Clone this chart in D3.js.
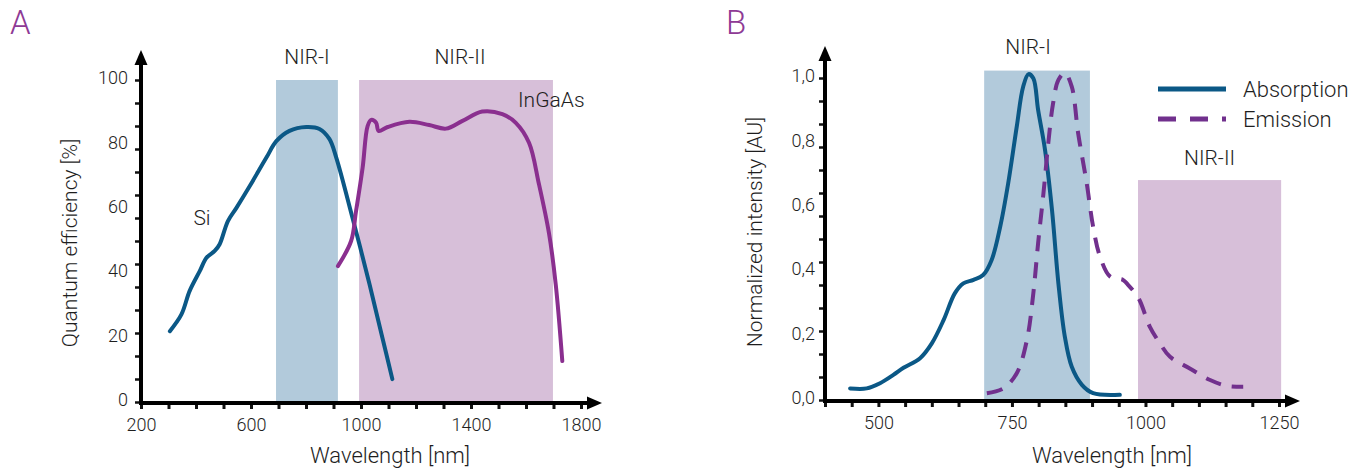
<!DOCTYPE html>
<html>
<head>
<meta charset="utf-8">
<script src="https://cdn.jsdelivr.net/npm/d3@7"></script>
<style>
  html, body { margin: 0; padding: 0; background: #fff; }
  svg { display: block; }
  text { font-family: Roboto, "Open Sans", sans-serif; fill: #1e1e1e; font-weight: 300; }
</style>
</head>
<body>
<svg id="chart" width="1370" height="471"></svg>
<script>
// ---------- Panel A data ----------
const siWavelength = [305, 347, 377, 414, 438, 468, 486, 516, 547, 595, 656, 692, 740, 801, 849, 885, 910, 969, 1031, 1078, 1114];
const siQE         = [22, 27.2, 34.5, 40.7, 44.8, 46.9, 49, 56.2, 60.3, 67, 75.9, 81, 84.2, 85.4, 84.8, 81.7, 75.9, 57.2, 36.6, 19.9, 7.1];
const ingaasWavelength = [916, 964, 982, 1006, 1024, 1037, 1055, 1064, 1097, 1176, 1248, 1309, 1369, 1441, 1514, 1563, 1611, 1647, 1684, 1708, 1732];
const ingaasQE         = [42.2, 50, 59.3, 72.8, 85.7, 87.6, 86.7, 84.2, 85.4, 87, 86, 84.9, 87.3, 90.2, 89.4, 86.7, 80.5, 67.7, 52.2, 36.6, 12.7];
const bandsA = ["NIR-I", "NIR-II"];
const bandsAStart = [691, 993];
const bandsAEnd = [916, 1698];
const bandsATop = [100, 100];
const xTicksA = [200, 600, 1000, 1400, 1800];
const xMinorA = [200, 300, 400, 500, 600, 700, 800, 900, 1000, 1100, 1200, 1300, 1400, 1500, 1600, 1700, 1800];
const yTicksA = [0, 20, 40, 60, 80, 100];

// ---------- Panel B data ----------
const absWavelength = [447, 478, 503, 528, 547, 578, 600, 622, 643, 659, 678, 696, 712, 728, 743, 759, 771, 781, 790, 799, 812, 825, 837, 849, 862, 881, 902, 952];
const absIntensity  = [0.036, 0.036, 0.052, 0.078, 0.1, 0.13, 0.176, 0.248, 0.331, 0.362, 0.373, 0.388, 0.435, 0.538, 0.673, 0.849, 0.973, 1.012, 0.999, 0.901, 0.776, 0.59, 0.362, 0.197, 0.103, 0.047, 0.021, 0.016];
const emWavelength = [703, 734, 759, 778, 790, 799, 809, 818, 827, 837, 849, 862, 874, 890, 902, 915, 934, 958, 965, 987, 1008, 1027, 1046, 1083, 1121, 1152, 1183];
const emIntensity  = [0.021, 0.036, 0.083, 0.186, 0.331, 0.487, 0.642, 0.797, 0.921, 0.994, 1.016, 0.973, 0.828, 0.673, 0.538, 0.445, 0.383, 0.373, 0.362, 0.316, 0.228, 0.176, 0.134, 0.098, 0.062, 0.044, 0.041];
const bandsB = ["NIR-I", "NIR-II"];
const bandsBStart = [698, 986];
const bandsBEnd = [896, 1254];
const bandsBTop = [1.023, 0.683];
const xTicksB = [500, 750, 1000, 1250];
const xMinorB = [400, 450, 500, 550, 600, 650, 700, 750, 800, 850, 900, 950, 1000, 1050, 1100, 1150, 1200, 1250];
const yTicksB = [0, 0.2, 0.4, 0.6, 0.8, 1.0];
const yTickLabelsB = ["0,0", "0,2", "0,4", "0,6", "0,8", "1,0"];
const seriesB = ["Absorption", "Emission"];

// ---------- Styles ----------
const BLUE = "#0b5886";
const PURPLE_A = "#8a2f8f";
const PURPLE_B = "#71308d";
const BAND_BLUE = "#b2cadb";
const BAND_PURPLE = "#d7bfd9";
const LABEL_PURPLE = "#8e3a95";

const svg = d3.select("#chart");

function arrowUp(g, x, yTip) {
  const p = d3.path(); p.moveTo(x, yTip); p.lineTo(x - 6.5, yTip + 15); p.lineTo(x + 6.5, yTip + 15); p.closePath();
  g.append("path").attr("d", p.toString()).attr("fill", "#000");
}
function arrowRight(g, xTip, y) {
  const p = d3.path(); p.moveTo(xTip, y); p.lineTo(xTip - 15, y - 6.5); p.lineTo(xTip - 15, y + 6.5); p.closePath();
  g.append("path").attr("d", p.toString()).attr("fill", "#000");
}

function drawPanel(cfg) {
  const g = svg.append("g");
  const x = cfg.x, y = cfg.y;
  cfg.bandNames.forEach((name, i) => {
    g.append("rect")
      .attr("x", x(cfg.bandStart[i]))
      .attr("y", y(cfg.bandTop[i]))
      .attr("width", x(cfg.bandEnd[i]) - x(cfg.bandStart[i]))
      .attr("height", y(0) - y(cfg.bandTop[i]) + 1)
      .attr("fill", cfg.bandColors[i]);
  });
  const xMinorAxis = d3.axisBottom(x).tickValues(cfg.xMinor).tickSize(6).tickFormat("");
  const gxm = g.append("g").attr("transform", `translate(0,${cfg.axisY})`).call(xMinorAxis);
  gxm.select(".domain").remove();
  gxm.selectAll(".tick line").attr("stroke", "#111").attr("stroke-width", 3);

  const yMinorAxis = d3.axisLeft(y).tickValues(cfg.yMinor).tickSize(5).tickFormat("");
  const gym = g.append("g").attr("transform", `translate(${cfg.axisX - 1},0)`).call(yMinorAxis);
  gym.select(".domain").remove();
  gym.selectAll(".tick line").attr("stroke", "#111").attr("stroke-width", 2.5);

  const xAxis = d3.axisBottom(x).tickValues(cfg.xTicks).tickSize(0).tickPadding(0).tickFormat(cfg.xFormat);
  const gx = g.append("g").attr("transform", `translate(0,${cfg.axisY})`).call(xAxis);
  gx.select(".domain").remove();
  gx.selectAll(".tick text").attr("font-size", 18).attr("fill", "#1e1e1e")
    .attr("font-family", "Roboto, sans-serif").attr("font-weight", 300).attr("y", 0).attr("dy", cfg.xLabelDy);

  const yAxis = d3.axisLeft(y).tickValues(cfg.yTicks).tickSize(0).tickPadding(0).tickFormat(cfg.yFormat);
  const gy = g.append("g").attr("transform", `translate(${cfg.yLabelX},0)`).call(yAxis);
  gy.select(".domain").remove();
  gy.selectAll(".tick text").attr("font-size", 18).attr("fill", "#1e1e1e")
    .attr("font-family", "Roboto, sans-serif").attr("font-weight", 300).attr("x", 0).attr("dy", "0.2em");

  const line = d3.line().x(d => x(d[0])).y(d => y(d[1])).curve(d3.curveCatmullRom.alpha(0.5));
  cfg.series.forEach(s => {
    g.append("path").datum(s.data).attr("d", line)
      .attr("fill", "none").attr("stroke", s.color).attr("stroke-width", 4)
      .attr("stroke-linecap", s.dash ? "butt" : "round").attr("stroke-linejoin", "round")
      .attr("stroke-dasharray", s.dash || null);
  });

  g.append("line").attr("x1", cfg.axisX).attr("x2", cfg.axisX)
    .attr("y1", cfg.axisY + 2).attr("y2", cfg.yTipY + 12)
    .attr("stroke", "#000").attr("stroke-width", 4);
  arrowUp(g, cfg.axisX, cfg.yTipY);
  g.append("line").attr("x1", cfg.axisX - 2).attr("x2", cfg.xTipX - 12)
    .attr("y1", cfg.axisY).attr("y2", cfg.axisY)
    .attr("stroke", "#000").attr("stroke-width", 4);
  arrowRight(g, cfg.xTipX, cfg.axisY);
  return g;
}

// ---------- Panel A ----------
const xA = d3.scaleLinear().domain([200, 1800]).range([141, 581]);
const yA = d3.scaleLinear().domain([0, 100]).range([402, 80]);
const gA = drawPanel({
  x: xA, y: yA, axisX: 141, axisY: 403, yTipY: 50, xTipX: 602,
  bandNames: bandsA, bandStart: bandsAStart, bandEnd: bandsAEnd, bandTop: bandsATop,
  bandColors: [BAND_BLUE, BAND_PURPLE],
  xMinor: xMinorA, yMinor: d3.range(15).map(i => i * 100 / 14),
  xTicks: xTicksA, yTicks: yTicksA, xFormat: d3.format("d"), yFormat: d3.format("d"),
  xLabelDy: 28, yLabelX: 128,
  series: [
    { data: siWavelength.map((w, i) => [w, siQE[i]]), color: BLUE },
    { data: ingaasWavelength.map((w, i) => [w, ingaasQE[i]]), color: PURPLE_A }
  ]
});
gA.append("text").attr("x", 10).attr("y", 34).attr("font-size", 33).attr("font-weight", 300)
  .style("fill", LABEL_PURPLE).text("A");
gA.append("text").attr("x", (xA(bandsAStart[0]) + xA(bandsAEnd[0])) / 2).attr("y", 64)
  .attr("text-anchor", "middle").attr("font-size", 21).text(bandsA[0]);
gA.append("text").attr("x", 460).attr("y", 64)
  .attr("text-anchor", "middle").attr("font-size", 21).text(bandsA[1]);
gA.append("text").attr("x", 518).attr("y", 107).attr("font-size", 21).text("InGaAs");
gA.append("text").attr("x", 202).attr("y", 225).attr("text-anchor", "middle").attr("font-size", 21).text("Si");
gA.append("text").attr("transform", "translate(77,243) rotate(-90)").attr("text-anchor", "middle")
  .attr("font-size", 21).text("Quantum efficiency [%]");
gA.append("text").attr("x", 390).attr("y", 463).attr("text-anchor", "middle")
  .attr("font-size", 22).text("Wavelength [nm]");

// ---------- Panel B ----------
const xB = d3.scaleLinear().domain([400, 1250]).range([825, 1279]);
const yB = d3.scaleLinear().domain([0, 1]).range([400, 78]);
const gB = drawPanel({
  x: xB, y: yB, axisX: 825, axisY: 401, yTipY: 46, xTipX: 1300,
  bandNames: bandsB, bandStart: bandsBStart, bandEnd: bandsBEnd, bandTop: bandsBTop,
  bandColors: [BAND_BLUE, BAND_PURPLE],
  xMinor: xMinorB, yMinor: d3.range(15).map(i => i / 14),
  xTicks: xTicksB, yTicks: yTicksB, xFormat: d3.format("d"), yFormat: (d, i) => yTickLabelsB[i],
  xLabelDy: 28, yLabelX: 815,
  series: [
    { data: absWavelength.map((w, i) => [w, absIntensity[i]]), color: BLUE },
    { data: emWavelength.map((w, i) => [w, emIntensity[i]]), color: PURPLE_B, dash: "16,11" }
  ]
});
gB.append("text").attr("x", 726).attr("y", 34).attr("font-size", 33).attr("font-weight", 300)
  .style("fill", LABEL_PURPLE).text("B");
gB.append("text").attr("x", 1028).attr("y", 54).attr("text-anchor", "middle").attr("font-size", 21).text(bandsB[0]);
gB.append("text").attr("x", (xB(bandsBStart[1]) + xB(bandsBEnd[1])) / 2).attr("y", 165)
  .attr("text-anchor", "middle").attr("font-size", 21).text(bandsB[1]);
gB.append("text").attr("transform", "translate(762,232) rotate(-90)").attr("text-anchor", "middle")
  .attr("font-size", 21).text("Normalized intensity [AU]");
gB.append("text").attr("x", 1112).attr("y", 463).attr("text-anchor", "middle")
  .attr("font-size", 22).text("Wavelength [nm]");

const legend = gB.append("g");
const legendY = d3.scalePoint().domain(seriesB).range([89, 119]);
legend.append("line").attr("x1", 1158).attr("x2", 1226).attr("y1", legendY("Absorption")).attr("y2", legendY("Absorption"))
  .attr("stroke", BLUE).attr("stroke-width", 5);
legend.append("line").attr("x1", 1158).attr("x2", 1226).attr("y1", legendY("Emission")).attr("y2", legendY("Emission"))
  .attr("stroke", PURPLE_B).attr("stroke-width", 5).attr("stroke-dasharray", "18,14");
seriesB.forEach(s => {
  legend.append("text").attr("x", 1243).attr("y", legendY(s)).attr("dy", "0.35em")
    .attr("font-size", 22).text(s);
});
</script>
</body>
</html>
